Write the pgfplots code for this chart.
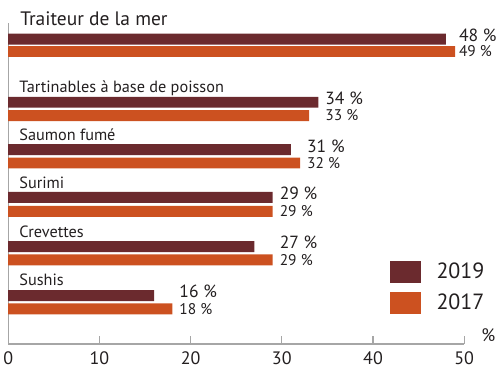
\documentclass[border=0pt]{standalone}
\usepackage{pgfplots}
\pgfplotsset{compat=1.18}
\usepackage{fontspec}
\setmainfont{PT Sans}
\definecolor{c19}{HTML}{6B2A2E}
\definecolor{c17}{HTML}{CC5120}
\definecolor{txt}{HTML}{231F20}
\definecolor{axc}{HTML}{A6A6A6}
\tikzset{
  vlA/.style={anchor=base west, inner sep=0pt, text=txt, font=\fontsize{13.2}{15}\selectfont},
  vlB/.style={anchor=base west, inner sep=0pt, text=txt, font=\fontsize{11.6}{13}\selectfont},
  catl/.style={anchor=base west, inner sep=0pt, text=txt, font=\fontsize{12.2}{14}\selectfont},
}

\pgfplotstableread{
y19 v19 y17 v17
-38.8 48 -51.2 49
-102.0 34 -115.3 33
-149.5 31 -162.8 32
-197.2 29 -211.2 29
-246.5 27 -259.8 29
-295.5 16 -308.8 18
}\datatable

\begin{document}
\begin{tikzpicture}[x=0.75pt,y=0.75pt]
\path[use as bounding box] (0,0) rectangle (500,378);
\begin{axis}[
  at={(9,34)}, anchor=south west,
  scale only axis, width=342pt, height=240.75pt,
  xmin=0, xmax=50, ymin=-344, ymax=-22.7,
  axis x line*=bottom, axis y line*=left,
  axis line style={axc, line width=1pt},
  xtick={0,10,...,50}, ytick=\empty,
  tick align=inside, major tick length=6pt,
  tick style={axc, line width=0.8pt},
  /pgf/number format/assume math mode=true,
  xticklabel style={font=\fontsize{13.5}{15}\selectfont, text=txt, inner sep=0pt, anchor=north, yshift=-5.8pt},
  clip=false,
  legend style={at={(axis cs:41.78,-260.5)}, anchor=north west, draw=none, fill=none,
    font=\fontsize{16.5}{18}\selectfont, text=txt, row sep=6.75pt, column sep=0pt,
    inner sep=0pt, nodes={inner sep=0pt}},
  legend image code/.code={\fill[#1] (0pt,-8.25pt) rectangle (23.25pt,8.25pt);},
  legend cell align=left,
]
\addplot[xbar, bar width=11, bar shift=0pt, fill=c19, draw=none] table[x=v19, y=y19] {\datatable};
\addlegendentry{\hspace{12pt}2019}
\addplot[xbar, bar width=11, bar shift=0pt, fill=c17, draw=none] table[x=v17, y=y17] {\datatable};
\addlegendentry{\hspace{12pt}2017}

\node[catl, font=\fontsize{14.6}{16}\selectfont] at (axis cs:1.3,-25) {Traiteur de la mer};
\node[catl] at (axis cs:1.2,-92) {Tartinables à base de poisson};
\node[catl] at (axis cs:1.2,-140) {Saumon fumé};
\node[catl] at (axis cs:1.2,-188) {Surimi};
\node[catl] at (axis cs:1.2,-237) {Crevettes};
\node[catl] at (axis cs:1.2,-285) {Sushis};

\node[vlA] at (axis cs:49.4,-41.1) {48 \%};
\node[vlB] at (axis cs:49.4,-56.5) {49 \%};
\node[vlA] at (axis cs:34.75,-104.3) {34 \%};
\node[vlB] at (axis cs:34.75,-120.6) {33 \%};
\node[vlA] at (axis cs:32.75,-151.8) {31 \%};
\node[vlB] at (axis cs:32.75,-168.1) {32 \%};
\node[vlA] at (axis cs:29.75,-199.5) {29 \%};
\node[vlB] at (axis cs:29.75,-216.5) {29 \%};
\node[vlA] at (axis cs:29.75,-248.8) {27 \%};
\node[vlB] at (axis cs:29.75,-265.1) {29 \%};
\node[vlA] at (axis cs:18.75,-297.8) {16 \%};
\node[vlB] at (axis cs:18.75,-314.1) {18 \%};

\node[anchor=base west, inner sep=0pt, text=txt, font=\fontsize{13.5}{15}\selectfont] at (axis cs:51.86,-341.7) {\%};
\end{axis}
\end{tikzpicture}
\end{document}
